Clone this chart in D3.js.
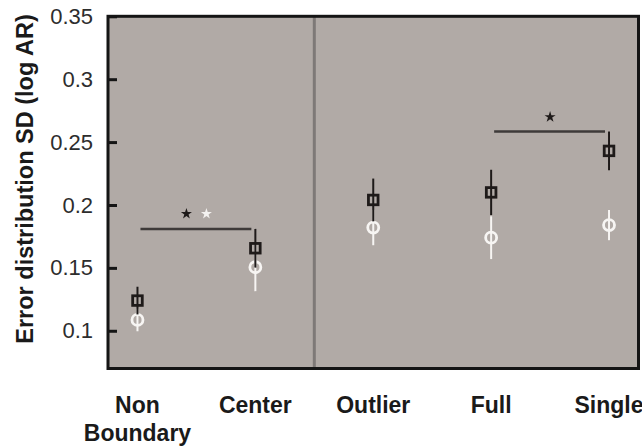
<!DOCTYPE html>
<html>
<head>
<meta charset="utf-8">
<script src="https://cdn.jsdelivr.net/npm/d3@7"></script>
<style>
  html, body { margin: 0; padding: 0; background: #fff; }
  svg { display: block; }
</style>
</head>
<body>
<svg id="chart" width="642" height="446"></svg>
<script>
// ---- data ----
const categories = ["Non Boundary", "Center", "Outlier", "Full", "Single"];
const categoryLabels = [["Non", "Boundary"], ["Center"], ["Outlier"], ["Full"], ["Single"]];
const squareValues = [0.124, 0.1656, 0.204, 0.210, 0.243];
const squareErrors = [0.011, 0.0154, 0.017, 0.018, 0.0154];
const circleValues = [0.1086, 0.1505, 0.182, 0.174, 0.184];
const circleErrors = [0.009, 0.019, 0.014, 0.017, 0.012];
const yTicks = [0.1, 0.15, 0.2, 0.25, 0.3, 0.35];
const yTickLabels = ["0.1", "0.15", "0.2", "0.25", "0.3", "0.35"];
const brackets = [
  { from: "Non Boundary", to: "Center", y: 0.181, starY: 0.193, stars: ["#1e1a19", "#f4f2f0"] },
  { from: "Full", to: "Single", y: 0.2584, starY: 0.270, stars: ["#1e1a19"] }
];
const yDomain = [0.07, 0.35];
const yTitle = "Error distribution SD (log AR)";

// ---- layout ----
const svg = d3.select("#chart");
const plot = { left: 108, right: 638.5, top: 16.3, bottom: 368.5 };

const x = d3.scalePoint().domain(categories).range([plot.left, plot.right]).padding(0.25);
const y = d3.scaleLinear().domain(yDomain).range([plot.bottom, plot.top]);

// background panel
svg.append("rect")
  .attr("x", plot.left).attr("y", plot.top)
  .attr("width", plot.right - plot.left).attr("height", plot.bottom - plot.top)
  .attr("fill", "#b1aaa6");

// divider between Center and Outlier
const divX = (x("Center") + x("Outlier")) / 2;
svg.append("line")
  .attr("x1", divX).attr("x2", divX)
  .attr("y1", plot.top).attr("y2", plot.bottom)
  .attr("stroke", "#7e7977").attr("stroke-width", 3);

// y axis (inward ticks)
const yAxis = d3.axisLeft(y)
  .tickValues(yTicks)
  .tickFormat((d, i) => yTickLabels[i])
  .tickSizeInner(-9).tickSizeOuter(0).tickPadding(15);
const gy = svg.append("g").attr("transform", `translate(${plot.left},0)`).call(yAxis);
gy.select(".domain").remove();
gy.selectAll(".tick line").attr("stroke", "#151515").attr("stroke-width", 3);
gy.selectAll(".tick text")
  .attr("fill", "#2d2d2d")
  .style("font-family", "'Liberation Sans', Arial, sans-serif")
  .style("font-size", "22px");

// frame
svg.append("rect")
  .attr("x", plot.left).attr("y", plot.top)
  .attr("width", plot.right - plot.left).attr("height", plot.bottom - plot.top)
  .attr("fill", "none").attr("stroke", "#151515").attr("stroke-width", 3);

// y title
svg.append("text")
  .attr("transform", `translate(33,179) rotate(-90)`)
  .attr("text-anchor", "middle")
  .attr("fill", "#1a1a1a")
  .style("font-family", "'Liberation Sans', Arial, sans-serif")
  .style("font-weight", "bold")
  .style("font-size", "23.5px")
  .text(yTitle);

// x labels
const xl = svg.append("g");
categories.forEach((c, i) => {
  const t = xl.append("text")
    .attr("x", x(c)).attr("y", 413)
    .attr("text-anchor", "middle")
    .attr("fill", "#1a1a1a")
    .style("font-family", "'Liberation Sans', Arial, sans-serif")
    .style("font-weight", "bold")
    .style("font-size", "23px");
  categoryLabels[i].forEach((line, j) => {
    t.append("tspan").attr("x", x(c)).attr("dy", j === 0 ? 0 : 28).text(line);
  });
});

// brackets
brackets.forEach(b => {
  svg.append("line")
    .attr("x1", x(b.from) + 3).attr("x2", x(b.to) - 4)
    .attr("y1", y(b.y)).attr("y2", y(b.y))
    .attr("stroke", "#3e3a39").attr("stroke-width", 2.5);
  const mid = (x(b.from) + x(b.to)) / 2;
  const n = b.stars.length;
  b.stars.forEach((col, k) => {
    const sx = mid + (k - (n - 1) / 2) * 20;
    svg.append("path")
      .attr("d", d3.symbol(d3.symbolStar).size(38)())
      .attr("transform", `translate(${sx},${y(b.starY)})`)
      .attr("fill", col);
  });
});

// circles series (white)
const circ = svg.append("g");
categories.forEach((c, i) => {
  circ.append("line")
    .attr("x1", x(c)).attr("x2", x(c))
    .attr("y1", y(circleValues[i] - circleErrors[i]))
    .attr("y2", y(circleValues[i] + circleErrors[i]))
    .attr("stroke", "#f7f5f3").attr("stroke-width", 2);
  circ.append("circle")
    .attr("cx", x(c)).attr("cy", y(circleValues[i]))
    .attr("r", 5.5)
    .attr("fill", "none").attr("stroke", "#f7f5f3").attr("stroke-width", 2.8);
});

// squares series (black)
const sq = svg.append("g");
categories.forEach((c, i) => {
  sq.append("line")
    .attr("x1", x(c)).attr("x2", x(c))
    .attr("y1", y(squareValues[i] - squareErrors[i]))
    .attr("y2", y(squareValues[i] + squareErrors[i]))
    .attr("stroke", "#1e1a19").attr("stroke-width", 2);
  sq.append("rect")
    .attr("x", x(c) - 4.8).attr("y", y(squareValues[i]) - 4.8)
    .attr("width", 9.6).attr("height", 9.6)
    .attr("fill", "none").attr("stroke", "#1e1a19").attr("stroke-width", 2.8);
});
</script>
</body>
</html>
